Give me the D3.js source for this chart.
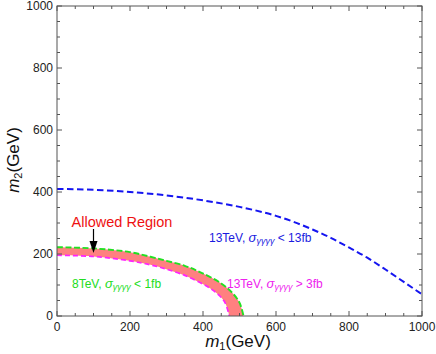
<!DOCTYPE html>
<html><head><meta charset="utf-8">
<script src="https://cdn.jsdelivr.net/npm/d3@7"></script>
<style>body{margin:0;background:#fff}svg{display:block}text{font-family:"Liberation Sans",Arial,sans-serif}</style>
</head><body><svg id="c" width="436" height="354"></svg>
<script>
// data
const blueCurve = [[0,410],[100,407],[200,400],[300,389],[400,373],[500,352],[600,323],[650,303],[700,279],[750,252],[800,221],[850,188],[900,150],[950,110],[1000,70]];
const greenCurve = [[0,222],[100,218],[200,206],[256,191],[300,178],[350,162],[393,141],[450,105],[480,75],[500,43],[511,0]];
const magentaCurve = [[0,196],[100,192],[200,178],[256,165],[300,151],[350,131],[393,107],[420,89],[440,71],[460,44],[472,0]];
const xTicks = [0,200,400,600,800,1000];
const yTicks = [0,200,400,600,800,1000];
const minorStep = 50;

const svg = d3.select("#c");
const L=57, R=422, T=6, B=316;
const x = d3.scaleLinear().domain([0,1000]).range([L,R]);
const y = d3.scaleLinear().domain([0,1000]).range([B,T]);

svg.append("defs").append("clipPath").attr("id","clip")
  .append("rect").attr("x",L).attr("y",T).attr("width",R-L).attr("height",B-T);
const g = svg.append("g").attr("clip-path","url(#clip)");

const line = d3.line().x(d=>x(d[0])).y(d=>y(d[1])).curve(d3.curveCatmullRom);
const lineM = d3.line().x(d=>x(d[0])).y(d=>y(d[1])).curve(d3.curveMonotoneX);
// band
const bandPath = line(greenCurve) + "L" + line(magentaCurve.slice().reverse()).slice(1) + "Z";
g.append("path").attr("d",bandPath).attr("fill","#ff8080").attr("stroke","none");
g.append("path").attr("d",line(greenCurve)).attr("fill","none").attr("stroke","#22e022").attr("stroke-width",1.9).attr("stroke-dasharray","6,2.5");
g.append("path").attr("d",line(magentaCurve)).attr("fill","none").attr("stroke","#ff22ff").attr("stroke-width",1.7).attr("stroke-dasharray","5,3");
g.append("path").attr("d",lineM(blueCurve)).attr("fill","none").attr("stroke","#1515f0").attr("stroke-width",2).attr("stroke-dasharray","6.5,3.5");

// frame
const axisColor="#555";
svg.append("rect").attr("x",L).attr("y",T).attr("width",R-L).attr("height",B-T)
  .attr("fill","none").attr("stroke",axisColor).attr("stroke-width",1);
const minors = d3.range(0,1001,minorStep);
const tg = svg.append("g").attr("stroke",axisColor).attr("stroke-width",1);
minors.forEach(v=>{
  const major = v%200===0;
  const len = major?5:3;
  tg.append("line").attr("x1",x(v)).attr("x2",x(v)).attr("y1",B).attr("y2",B-len);
  tg.append("line").attr("x1",x(v)).attr("x2",x(v)).attr("y1",T).attr("y2",T+len);
  tg.append("line").attr("y1",y(v)).attr("y2",y(v)).attr("x1",L).attr("x2",L+len);
  tg.append("line").attr("y1",y(v)).attr("y2",y(v)).attr("x1",R).attr("x2",R-len);
});
svg.selectAll(".xt").data(xTicks).enter().append("text")
  .attr("x",d=>x(d)).attr("y",B+15).attr("text-anchor","middle")
  .attr("font-size",12).attr("fill","#222").text(d=>d);
svg.selectAll(".yt").data(yTicks).enter().append("text")
  .attr("x",L-4).attr("y",d=>y(d)+4).attr("text-anchor","end")
  .attr("font-size",12).attr("fill","#222").text(d=>d);

// axis labels
const xl = svg.append("text").attr("x",238).attr("y",347).attr("text-anchor","middle").attr("font-size",17).attr("fill","#111");
xl.append("tspan").attr("font-style","italic").text("m");
xl.append("tspan").attr("font-size",11).attr("dy",3).text("1");
xl.append("tspan").attr("dy",-3).text("(GeV)");
const yl = svg.append("text").attr("transform","translate(19,160) rotate(-90)").attr("text-anchor","middle").attr("font-size",17).attr("fill","#111");
yl.append("tspan").attr("font-style","italic").text("m");
yl.append("tspan").attr("font-size",11).attr("dy",3).text("2");
yl.append("tspan").attr("dy",-3).text("(GeV)");

// annotations
function sigLabel(px,py,color,pre,post){
  const t = svg.append("text").attr("x",px).attr("y",py).attr("font-size",12).attr("fill",color);
  t.append("tspan").text(pre);
  t.append("tspan").attr("font-style","italic").attr("font-size",13).text("σ");
  t.append("tspan").attr("font-style","italic").attr("font-size",9).attr("dy",2).text("γγγγ");
  t.append("tspan").attr("dy",-2).text(post);
}
sigLabel(209,242,"#1a1ae0","13TeV, "," < 13fb");
sigLabel(72,288,"#22dd22","8TeV, "," < 1fb");
sigLabel(227,288,"#ee22ee","13TeV, "," > 3fb");

svg.append("text").attr("x",122).attr("y",227).attr("text-anchor","middle").attr("font-size",14.5).attr("fill","#ee1111").text("Allowed Region");
// arrow
const ax = x(100);
svg.append("line").attr("x1",ax).attr("x2",ax).attr("y1",229).attr("y2",243).attr("stroke","#000").attr("stroke-width",1.2);
svg.append("path").attr("d",`M${ax-4},${241} L${ax+4},${241} L${ax},${253} Z`).attr("fill","#000");
</script></body></html>
